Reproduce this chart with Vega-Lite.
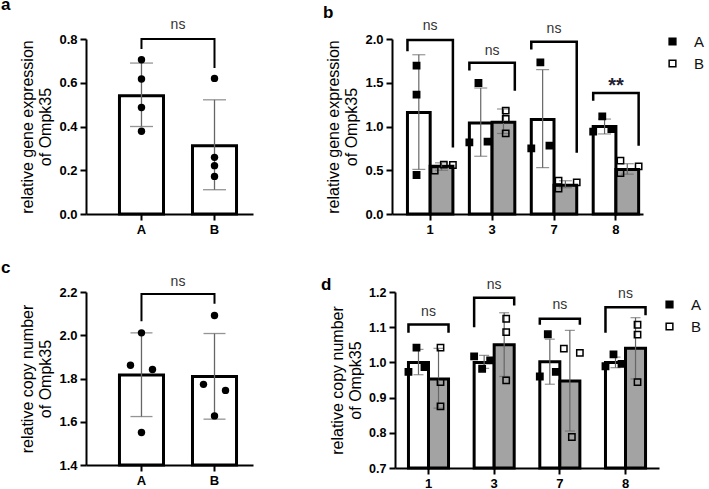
{
"$schema": "https://vega.github.io/schema/vega-lite/v6.json",
"background": "white",
"padding": {"left": 1, "top": -5, "right": 0, "bottom": 0},
"config": {
 "font": "Liberation Sans",
 "view": {"stroke": null},
 "axis": {"domainColor": "black", "domainWidth": 2, "tickColor": "black", "tickWidth": 2, "tickSize": 6, "labelFontWeight": "bold", "labelFontSize": 13, "labelColor": "black", "labelPadding": 3, "labelOverlap": false, "titleFontWeight": "normal", "titleFontSize": 16, "titleColor": "black", "titleLineHeight": 18, "titlePadding": 5, "grid": false},
 "title": {"fontSize": 17, "fontWeight": "bold", "anchor": "start", "frame": "group", "color": "black"}
},
"datasets": {
 "a_bars": [{"g": "A", "m": 0.541, "lo": 0.40, "hi": 0.69}, {"g": "B", "m": 0.312, "lo": 0.111, "hi": 0.522}],
 "a_pts": [{"g": "A", "v": 0.705}, {"g": "A", "v": 0.617}, {"g": "A", "v": 0.487}, {"g": "A", "v": 0.378}, {"g": "B", "v": 0.62}, {"g": "B", "v": 0.259}, {"g": "B", "v": 0.221}, {"g": "B", "v": 0.172}],
 "a_br": [{"g": "A", "y": 0.754, "k": 1}, {"g": "A", "y": 0.8, "k": 2}, {"g": "B", "y": 0.8, "k": 3}, {"g": "B", "y": 0.667, "k": 4}],
 "a_txt": [{"g": "A", "y": 0.865, "t": "ns"}],
 "c_bars": [{"g": "A", "m": 1.816, "lo": 1.624, "hi": 2.011}, {"g": "B", "m": 1.809, "lo": 1.612, "hi": 2.008}],
 "c_pts": [{"g": "A", "s": "c", "v": 2.011}, {"g": "A", "s": "l", "v": 1.861}, {"g": "A", "s": "r", "v": 1.842}, {"g": "A", "s": "c", "v": 1.55}, {"g": "B", "s": "c", "v": 2.091}, {"g": "B", "s": "l", "v": 1.773}, {"g": "B", "s": "r", "v": 1.745}, {"g": "B", "s": "c", "v": 1.627}],
 "c_br": [{"g": "A", "y": 2.065, "k": 1}, {"g": "A", "y": 2.191, "k": 2}, {"g": "B", "y": 2.191, "k": 3}, {"g": "B", "y": 2.146, "k": 4}],
 "c_txt": [{"g": "A", "y": 2.245, "t": "ns"}],
 "b_bars": [
  {"c": "1", "g": "A", "m": 1.16, "lo": 0.51, "hi": 1.82}, {"c": "1", "g": "B", "m": 0.545, "lo": 0.50, "hi": 0.585},
  {"c": "3", "g": "A", "m": 1.04, "lo": 0.66, "hi": 1.44}, {"c": "3", "g": "B", "m": 1.05, "lo": 0.92, "hi": 1.20},
  {"c": "7", "g": "A", "m": 1.08, "lo": 0.53, "hi": 1.65}, {"c": "7", "g": "B", "m": 0.33, "lo": 0.30, "hi": 0.38},
  {"c": "8", "g": "A", "m": 1.00, "lo": 0.915, "hi": 1.085}, {"c": "8", "g": "B", "m": 0.51, "lo": 0.455, "hi": 0.575}],
 "b_pts": [
  {"c": "1", "g": "A", "s": "A-c", "v": 1.695}, {"c": "1", "g": "A", "s": "A-c", "v": 1.364}, {"c": "1", "g": "A", "s": "A-c", "v": 0.446},
  {"c": "1", "g": "B", "s": "B-l", "v": 0.495}, {"c": "1", "g": "B", "s": "B-c", "v": 0.564}, {"c": "1", "g": "B", "s": "B-r", "v": 0.56},
  {"c": "3", "g": "A", "s": "A-c", "v": 1.497}, {"c": "3", "g": "A", "s": "A-l", "v": 0.819}, {"c": "3", "g": "A", "s": "A-r", "v": 0.827},
  {"c": "3", "g": "B", "s": "B-c", "v": 1.181}, {"c": "3", "g": "B", "s": "B-c", "v": 1.086}, {"c": "3", "g": "B", "s": "B-c", "v": 0.922},
  {"c": "7", "g": "A", "s": "A-c", "v": 1.733}, {"c": "7", "g": "A", "s": "A-l", "v": 0.75}, {"c": "7", "g": "A", "s": "A-r", "v": 0.781},
  {"c": "7", "g": "B", "s": "B-l", "v": 0.38}, {"c": "7", "g": "B", "s": "B-l", "v": 0.29}, {"c": "7", "g": "B", "s": "B-r", "v": 0.362},
  {"c": "8", "g": "A", "s": "A-c", "v": 1.116}, {"c": "8", "g": "A", "s": "A-l", "v": 0.941}, {"c": "8", "g": "A", "s": "A-r", "v": 0.971},
  {"c": "8", "g": "B", "s": "B-l", "v": 0.61}, {"c": "8", "g": "B", "s": "B-l", "v": 0.469}, {"c": "8", "g": "B", "s": "B-r", "v": 0.545}],
 "b_br": [
  {"c": "1", "g": "A", "y": 1.86, "k": 1}, {"c": "1", "g": "A", "y": 1.99, "k": 2}, {"c": "1", "g": "B", "y": 1.99, "k": 3}, {"c": "1", "g": "B", "y": 0.76, "k": 4},
  {"c": "3", "g": "A", "y": 1.64, "k": 1}, {"c": "3", "g": "A", "y": 1.73, "k": 2}, {"c": "3", "g": "B", "y": 1.73, "k": 3}, {"c": "3", "g": "B", "y": 1.41, "k": 4},
  {"c": "7", "g": "A", "y": 1.88, "k": 1}, {"c": "7", "g": "A", "y": 1.97, "k": 2}, {"c": "7", "g": "B", "y": 1.97, "k": 3}, {"c": "7", "g": "B", "y": 0.70, "k": 4},
  {"c": "8", "g": "A", "y": 1.295, "k": 1}, {"c": "8", "g": "A", "y": 1.383, "k": 2}, {"c": "8", "g": "B", "y": 1.383, "k": 3}, {"c": "8", "g": "B", "y": 0.78, "k": 4}],
 "b_txt": [{"c": "1", "y": 2.145, "t": "ns"}, {"c": "3", "y": 1.867, "t": "ns"}, {"c": "7", "y": 2.12, "t": "ns"}],
 "b_star": [{"c": "8", "y": 1.524, "t": "**"}],
 "d_bars": [
  {"c": "1", "g": "A", "m": 1.0, "lo": 0.965, "hi": 1.037}, {"c": "1", "g": "B", "m": 0.953, "lo": 0.87, "hi": 1.04},
  {"c": "3", "g": "A", "m": 1.0, "lo": 0.983, "hi": 1.02}, {"c": "3", "g": "B", "m": 1.05, "lo": 0.96, "hi": 1.141},
  {"c": "7", "g": "A", "m": 1.002, "lo": 0.938, "hi": 1.066}, {"c": "7", "g": "B", "m": 0.947, "lo": 0.805, "hi": 1.091},
  {"c": "8", "g": "A", "m": 1.0, "lo": 0.985, "hi": 1.015}, {"c": "8", "g": "B", "m": 1.04, "lo": 0.953, "hi": 1.127}],
 "d_pts": [
  {"c": "1", "g": "A", "s": "A-c", "v": 1.042}, {"c": "1", "g": "A", "s": "A-l", "v": 0.973}, {"c": "1", "g": "A", "s": "A-r", "v": 0.987},
  {"c": "1", "g": "B", "s": "B-c", "v": 1.042}, {"c": "1", "g": "B", "s": "B-c", "v": 0.944}, {"c": "1", "g": "B", "s": "B-c", "v": 0.875},
  {"c": "3", "g": "A", "s": "A-l", "v": 1.017}, {"c": "3", "g": "A", "s": "A-c", "v": 0.982}, {"c": "3", "g": "A", "s": "A-r", "v": 1.006},
  {"c": "3", "g": "B", "s": "B-c", "v": 1.124}, {"c": "3", "g": "B", "s": "B-c", "v": 1.086}, {"c": "3", "g": "B", "s": "B-c", "v": 0.949},
  {"c": "7", "g": "A", "s": "A-c", "v": 1.08}, {"c": "7", "g": "A", "s": "A-l", "v": 0.96}, {"c": "7", "g": "A", "s": "A-r", "v": 0.973},
  {"c": "7", "g": "B", "s": "B-l", "v": 1.039}, {"c": "7", "g": "B", "s": "B-r", "v": 1.027}, {"c": "7", "g": "B", "s": "B-c", "v": 0.788},
  {"c": "8", "g": "A", "s": "A-c", "v": 1.023}, {"c": "8", "g": "A", "s": "A-l", "v": 0.989}, {"c": "8", "g": "A", "s": "A-r", "v": 0.996},
  {"c": "8", "g": "B", "s": "B-c", "v": 1.107}, {"c": "8", "g": "B", "s": "B-c", "v": 1.079}, {"c": "8", "g": "B", "s": "B-c", "v": 0.944}],
 "d_br": [
  {"c": "1", "g": "A", "y": 1.084, "k": 1}, {"c": "1", "g": "A", "y": 1.108, "k": 2}, {"c": "1", "g": "B", "y": 1.108, "k": 3}, {"c": "1", "g": "B", "y": 1.084, "k": 4},
  {"c": "3", "g": "A", "y": 1.10, "k": 1}, {"c": "3", "g": "A", "y": 1.184, "k": 2}, {"c": "3", "g": "B", "y": 1.184, "k": 3}, {"c": "3", "g": "B", "y": 1.162, "k": 4},
  {"c": "7", "g": "A", "y": 1.107, "k": 1}, {"c": "7", "g": "A", "y": 1.124, "k": 2}, {"c": "7", "g": "B", "y": 1.124, "k": 3}, {"c": "7", "g": "B", "y": 1.107, "k": 4},
  {"c": "8", "g": "A", "y": 1.084, "k": 1}, {"c": "8", "g": "A", "y": 1.157, "k": 2}, {"c": "8", "g": "B", "y": 1.157, "k": 3}, {"c": "8", "g": "B", "y": 1.134, "k": 4}],
 "d_txt": [{"c": "1", "y": 1.143, "t": "ns"}, {"c": "3", "y": 1.219, "t": "ns"}, {"c": "7", "y": 1.164, "t": "ns"}, {"c": "8", "y": 1.195, "t": "ns"}]
},
"spacing": 23,
"vconcat": [
 {"spacing": 70, "hconcat": [
  {"width": 167, "height": 175,
   "title": {"text": "a", "dx": -85},
   "encoding": {"x": {"field": "g", "type": "nominal", "scale": {"type": "band", "domain": ["A", "B"], "paddingInner": 0.397, "paddingOuter": 0.342, "align": 0.67}, "axis": {"title": null, "labelAngle": 0}}},
   "layer": [
    {"data": {"name": "a_bars"}, "mark": {"type": "bar", "fill": "white", "stroke": "black", "strokeWidth": 3}, "encoding": {"xOffset": {"datum": "bar", "type": "nominal", "scale": {"paddingInner": 0, "paddingOuter": 0}}, "y": {"field": "m", "type": "quantitative", "scale": {"domain": [0, 0.8], "nice": false}, "axis": {"values": [0, 0.2, 0.4, 0.6, 0.8], "format": ".1f", "labelOverlap": false, "title": ["relative gene expression", "of Ompk35"]}}}},
    {"data": {"name": "a_bars"}, "mark": {"type": "rule", "color": "#666666", "strokeWidth": 1.3}, "encoding": {"y": {"field": "lo", "type": "quantitative", "scale": {"domain": [0, 0.8], "nice": false}}, "y2": {"field": "hi"}}},
    {"data": {"name": "a_bars"}, "mark": {"type": "tick", "color": "#666666", "thickness": 1.3, "size": 23}, "encoding": {"y": {"field": "lo", "type": "quantitative", "scale": {"domain": [0, 0.8], "nice": false}}}},
    {"data": {"name": "a_bars"}, "mark": {"type": "tick", "color": "#666666", "thickness": 1.3, "size": 23}, "encoding": {"y": {"field": "hi", "type": "quantitative", "scale": {"domain": [0, 0.8], "nice": false}}}},
    {"data": {"name": "a_pts"}, "mark": {"type": "circle", "size": 55, "color": "black", "opacity": 1}, "encoding": {"y": {"field": "v", "type": "quantitative", "scale": {"domain": [0, 0.8], "nice": false}}}},
    {"data": {"name": "a_br"}, "mark": {"type": "line", "color": "black", "strokeWidth": 2, "strokeJoin": "miter"}, "encoding": {"y": {"field": "y", "type": "quantitative", "scale": {"domain": [0, 0.8], "nice": false}}, "order": {"field": "k", "type": "quantitative"}}},
    {"data": {"name": "a_txt"}, "mark": {"type": "text", "fontSize": 14, "color": "#333333", "baseline": "middle", "dx": 36.5}, "encoding": {"y": {"field": "y", "type": "quantitative", "scale": {"domain": [0, 0.8], "nice": false}}, "text": {"field": "t"}}}
   ]},
  {"width": 251, "height": 175,
   "title": {"text": "b", "dx": -69, "dy": 7},
   "encoding": {"x": {"field": "c", "type": "nominal", "scale": {"type": "band", "domain": ["1", "3", "7", "8"], "paddingInner": 0.266, "paddingOuter": 0.16, "align": 0.78}, "axis": {"title": null, "labelAngle": 0}}},
   "resolve": {"scale": {"xOffset": "independent", "fill": "independent"}},
   "layer": [
    {"data": {"name": "b_bars"}, "mark": {"type": "bar", "stroke": "black", "strokeWidth": 3}, "encoding": {"xOffset": {"field": "g", "type": "nominal", "scale": {"domain": ["A", "B"], "paddingInner": 0, "paddingOuter": 0}}, "y": {"field": "m", "type": "quantitative", "scale": {"domain": [0, 2], "nice": false}, "axis": {"values": [0, 0.5, 1, 1.5, 2], "format": ".1f", "labelOverlap": false, "title": ["relative gene expression", "of Ompk35"]}}, "fill": {"field": "g", "type": "nominal", "scale": {"domain": ["A", "B"], "range": ["white", "#a3a3a3"]}, "legend": null}}},
    {"data": {"name": "b_bars"}, "mark": {"type": "rule", "color": "#666666", "strokeWidth": 1.2}, "encoding": {"xOffset": {"field": "g", "type": "nominal", "scale": {"domain": ["A", "B"], "paddingInner": 0, "paddingOuter": 0}}, "y": {"field": "lo", "type": "quantitative", "scale": {"domain": [0, 2], "nice": false}}, "y2": {"field": "hi"}}},
    {"data": {"name": "b_bars"}, "mark": {"type": "tick", "color": "#666666", "thickness": 1.2, "size": 13}, "encoding": {"xOffset": {"field": "g", "type": "nominal", "scale": {"domain": ["A", "B"], "paddingInner": 0, "paddingOuter": 0}}, "y": {"field": "lo", "type": "quantitative", "scale": {"domain": [0, 2], "nice": false}}}},
    {"data": {"name": "b_bars"}, "mark": {"type": "tick", "color": "#666666", "thickness": 1.2, "size": 13}, "encoding": {"xOffset": {"field": "g", "type": "nominal", "scale": {"domain": ["A", "B"], "paddingInner": 0, "paddingOuter": 0}}, "y": {"field": "hi", "type": "quantitative", "scale": {"domain": [0, 2], "nice": false}}}},
    {"data": {"name": "b_pts"}, "mark": {"type": "point", "shape": "square", "filled": true, "stroke": "black", "strokeWidth": 1.5, "size": 40, "opacity": 1}, "encoding": {"xOffset": {"field": "s", "type": "nominal", "scale": {"domain": ["A-l", "A-c", "A-r", "B-l", "B-c", "B-r"], "paddingInner": 0, "paddingOuter": 0}}, "y": {"field": "v", "type": "quantitative", "scale": {"domain": [0, 2], "nice": false}}, "fill": {"field": "g", "type": "nominal", "scale": {"domain": ["A", "B"], "range": ["black", "transparent"]}, "legend": {"title": null, "orient": "none", "legendX": 273, "legendY": -5, "symbolType": "square", "symbolSize": 45, "symbolStrokeColor": "black", "symbolStrokeWidth": 1.5, "labelFontSize": 15, "labelColor": "#111111", "labelOffset": 14, "rowPadding": 6}}}},
    {"data": {"name": "b_br"}, "mark": {"type": "line", "color": "black", "strokeWidth": 2.5, "strokeJoin": "miter"}, "encoding": {"xOffset": {"field": "g", "type": "nominal", "scale": {"domain": ["A", "B"], "paddingInner": 0, "paddingOuter": 0}}, "y": {"field": "y", "type": "quantitative", "scale": {"domain": [0, 2], "nice": false}}, "detail": {"field": "c"}, "order": {"field": "k", "type": "quantitative"}}},
    {"data": {"name": "b_txt"}, "mark": {"type": "text", "fontSize": 14, "color": "#333333", "baseline": "middle"}, "encoding": {"y": {"field": "y", "type": "quantitative", "scale": {"domain": [0, 2], "nice": false}}, "text": {"field": "t"}}},
    {"data": {"name": "b_star"}, "mark": {"type": "text", "fontSize": 20, "fontWeight": "bold", "color": "#222233", "baseline": "middle", "dy": 5}, "encoding": {"y": {"field": "y", "type": "quantitative", "scale": {"domain": [0, 2], "nice": false}}, "text": {"field": "t"}}}
   ]}
 ]},
 {"spacing": 68, "hconcat": [
  {"width": 167, "height": 173,
   "title": {"text": "c", "dx": -85, "dy": 6},
   "encoding": {"x": {"field": "g", "type": "nominal", "scale": {"type": "band", "domain": ["A", "B"], "paddingInner": 0.397, "paddingOuter": 0.342, "align": 0.67}, "axis": {"title": null, "labelAngle": 0}}},
   "resolve": {"scale": {"xOffset": "independent"}},
   "layer": [
    {"data": {"name": "c_bars"}, "mark": {"type": "bar", "fill": "white", "stroke": "black", "strokeWidth": 3}, "encoding": {"xOffset": {"datum": "bar", "type": "nominal", "scale": {"paddingInner": 0, "paddingOuter": 0}}, "y": {"field": "m", "type": "quantitative", "scale": {"domain": [1.4, 2.2], "nice": false, "zero": false}, "axis": {"values": [1.4, 1.6, 1.8, 2.0, 2.2], "format": ".1f", "labelOverlap": false, "title": ["relative copy number", "of Ompk35"]}}, "y2": {"datum": 1.4}}},
    {"data": {"name": "c_bars"}, "mark": {"type": "rule", "color": "#666666", "strokeWidth": 1.3}, "encoding": {"y": {"field": "lo", "type": "quantitative", "scale": {"domain": [1.4, 2.2], "nice": false, "zero": false}}, "y2": {"field": "hi"}}},
    {"data": {"name": "c_bars"}, "mark": {"type": "tick", "color": "#666666", "thickness": 1.3, "size": 22}, "encoding": {"y": {"field": "lo", "type": "quantitative", "scale": {"domain": [1.4, 2.2], "nice": false, "zero": false}}}},
    {"data": {"name": "c_bars"}, "mark": {"type": "tick", "color": "#666666", "thickness": 1.3, "size": 22}, "encoding": {"y": {"field": "hi", "type": "quantitative", "scale": {"domain": [1.4, 2.2], "nice": false, "zero": false}}}},
    {"data": {"name": "c_pts"}, "mark": {"type": "circle", "size": 55, "color": "black", "opacity": 1}, "encoding": {"xOffset": {"field": "s", "type": "nominal", "scale": {"domain": ["l", "c", "r"], "paddingInner": 0, "paddingOuter": 1.64}}, "y": {"field": "v", "type": "quantitative", "scale": {"domain": [1.4, 2.2], "nice": false, "zero": false}}}},
    {"data": {"name": "c_br"}, "mark": {"type": "line", "color": "black", "strokeWidth": 2, "strokeJoin": "miter"}, "encoding": {"y": {"field": "y", "type": "quantitative", "scale": {"domain": [1.4, 2.2], "nice": false, "zero": false}}, "order": {"field": "k", "type": "quantitative"}}},
    {"data": {"name": "c_txt"}, "mark": {"type": "text", "fontSize": 14, "color": "#333333", "baseline": "middle", "dx": 36.5}, "encoding": {"y": {"field": "y", "type": "quantitative", "scale": {"domain": [1.4, 2.2], "nice": false, "zero": false}}, "text": {"field": "t"}}}
   ]},
  {"width": 264, "height": 176,
   "title": {"text": "d", "dx": -74, "dy": 20},
   "encoding": {"x": {"field": "c", "type": "nominal", "scale": {"type": "band", "domain": ["1", "3", "7", "8"], "paddingInner": 0.39, "paddingOuter": 0.205, "align": 0.5}, "axis": {"title": null, "labelAngle": 0}}},
   "resolve": {"scale": {"xOffset": "independent", "fill": "independent"}},
   "layer": [
    {"data": {"name": "d_bars"}, "mark": {"type": "bar", "stroke": "black", "strokeWidth": 3}, "encoding": {"xOffset": {"field": "g", "type": "nominal", "scale": {"domain": ["A", "B"], "paddingInner": 0, "paddingOuter": 0}}, "y": {"field": "m", "type": "quantitative", "scale": {"domain": [0.7, 1.2], "nice": false, "zero": false}, "axis": {"tickCount": 6, "format": ".1f", "labelOverlap": false, "labelFontSize": 12.5, "title": ["relative copy number", "of Ompk35"]}}, "y2": {"datum": 0.7}, "fill": {"field": "g", "type": "nominal", "scale": {"domain": ["A", "B"], "range": ["white", "#a3a3a3"]}, "legend": null}}},
    {"data": {"name": "d_bars"}, "mark": {"type": "rule", "color": "#666666", "strokeWidth": 1.2}, "encoding": {"xOffset": {"field": "g", "type": "nominal", "scale": {"domain": ["A", "B"], "paddingInner": 0, "paddingOuter": 0}}, "y": {"field": "lo", "type": "quantitative", "scale": {"domain": [0.7, 1.2], "nice": false, "zero": false}}, "y2": {"field": "hi"}}},
    {"data": {"name": "d_bars"}, "mark": {"type": "tick", "color": "#666666", "thickness": 1.2, "size": 10}, "encoding": {"xOffset": {"field": "g", "type": "nominal", "scale": {"domain": ["A", "B"], "paddingInner": 0, "paddingOuter": 0}}, "y": {"field": "lo", "type": "quantitative", "scale": {"domain": [0.7, 1.2], "nice": false, "zero": false}}}},
    {"data": {"name": "d_bars"}, "mark": {"type": "tick", "color": "#666666", "thickness": 1.2, "size": 10}, "encoding": {"xOffset": {"field": "g", "type": "nominal", "scale": {"domain": ["A", "B"], "paddingInner": 0, "paddingOuter": 0}}, "y": {"field": "hi", "type": "quantitative", "scale": {"domain": [0.7, 1.2], "nice": false, "zero": false}}}},
    {"data": {"name": "d_pts"}, "mark": {"type": "point", "shape": "square", "filled": true, "stroke": "black", "strokeWidth": 1.5, "size": 40, "opacity": 1}, "encoding": {"xOffset": {"field": "s", "type": "nominal", "scale": {"domain": ["A-l", "A-c", "A-r", "B-l", "B-c", "B-r"], "paddingInner": 0, "paddingOuter": 0}}, "y": {"field": "v", "type": "quantitative", "scale": {"domain": [0.7, 1.2], "nice": false, "zero": false}}, "fill": {"field": "g", "type": "nominal", "scale": {"domain": ["A", "B"], "range": ["black", "transparent"]}, "legend": {"title": null, "orient": "none", "legendX": 267, "legendY": 5, "symbolType": "square", "symbolSize": 45, "symbolStrokeColor": "black", "symbolStrokeWidth": 1.5, "labelFontSize": 15, "labelColor": "#111111", "labelOffset": 14, "rowPadding": 6}}}},
    {"data": {"name": "d_br"}, "mark": {"type": "line", "color": "black", "strokeWidth": 2.5, "strokeJoin": "miter"}, "encoding": {"xOffset": {"field": "g", "type": "nominal", "scale": {"domain": ["A", "B"], "paddingInner": 0, "paddingOuter": 0}}, "y": {"field": "y", "type": "quantitative", "scale": {"domain": [0.7, 1.2], "nice": false, "zero": false}}, "detail": {"field": "c"}, "order": {"field": "k", "type": "quantitative"}}},
    {"data": {"name": "d_txt"}, "mark": {"type": "text", "fontSize": 14, "color": "#333333", "baseline": "middle"}, "encoding": {"y": {"field": "y", "type": "quantitative", "scale": {"domain": [0.7, 1.2], "nice": false, "zero": false}}, "text": {"field": "t"}}}
   ]}
 ]}
]
}
